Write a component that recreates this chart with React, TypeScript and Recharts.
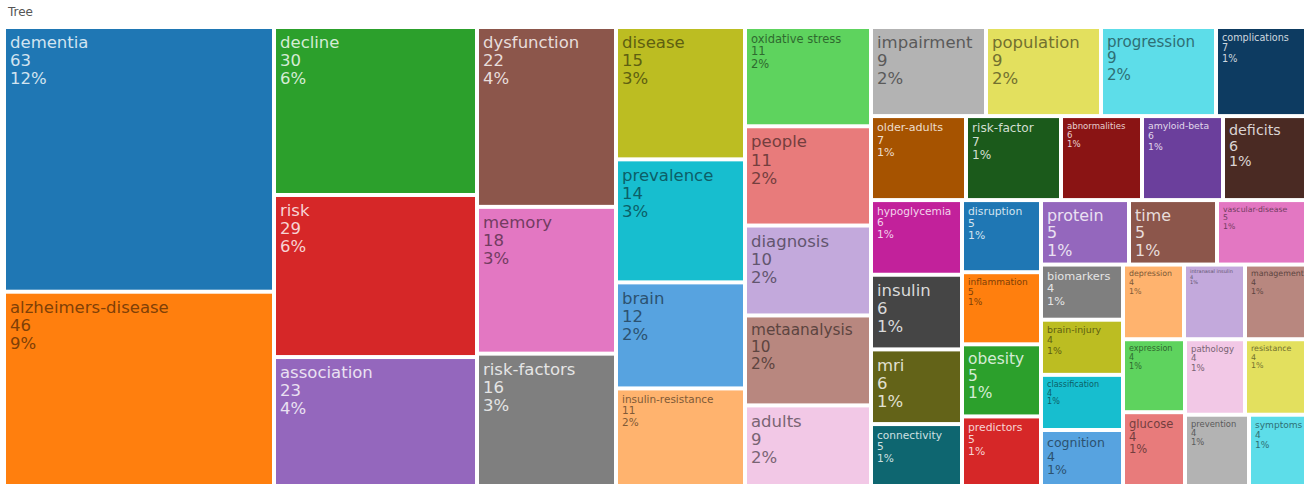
import { Treemap } from "recharts";

const keywords = [
  "dementia", "alzheimers-disease", "decline", "risk", "association",
  "dysfunction", "memory", "risk-factors", "disease", "prevalence",
  "brain", "insulin-resistance", "oxidative stress", "people", "diagnosis",
  "metaanalysis", "adults", "impairment", "population", "progression",
  "complications", "older-adults", "risk-factor", "abnormalities", "amyloid-beta",
  "deficits", "hypoglycemia", "insulin", "mri", "connectivity",
  "disruption", "inflammation", "obesity", "predictors", "protein",
  "time", "vascular-disease", "biomarkers", "brain-injury", "classification",
  "cognition", "depression", "intranasal insulin", "management", "expression",
  "glucose", "pathology", "resistance", "prevention", "symptoms",
];

const counts = [
  63, 46, 30, 29, 23,
  22, 18, 16, 15, 14,
  12, 11, 11, 11, 10,
  10, 9, 9, 9, 9,
  7, 7, 7, 6, 6,
  6, 6, 6, 6, 5,
  5, 5, 5, 5, 5,
  5, 5, 4, 4, 4,
  4, 4, 4, 4, 4,
  4, 4, 4, 4, 4,
];

const tileColors = [
  "#1f77b4", "#ff7f0e", "#2ca02c", "#d62728", "#9467bd",
  "#8c564b", "#e377c2", "#7f7f7f", "#bcbd22", "#17becf",
  "#57a3e0", "#ffb36e", "#5ed35e", "#e87b7b", "#c3a9dc",
  "#b8877f", "#f2c8e6", "#b3b3b3", "#e3e05e", "#5ddde9",
  "#0d3b61", "#a65300", "#1b5a1b", "#8a1414", "#6b3f9c",
  "#4a2a23", "#c2219b", "#454545", "#636318", "#0e6670",
  "#1f77b4", "#ff7f0e", "#2ca02c", "#d62728", "#9467bd",
  "#8c564b", "#e377c2", "#7f7f7f", "#bcbd22", "#17becf",
  "#57a3e0", "#ffb36e", "#c3a9dc", "#b8877f", "#5ed35e",
  "#e87b7b", "#f2c8e6", "#e3e05e", "#b3b3b3", "#5ddde9",
];

const total = counts.reduce((a, b) => a + b, 0);
const data = keywords.map((name, i) => ({ name, size: counts[i], color: tileColors[i] }));

// layout is computed on a slightly taller box, then squeezed to the visible height
const W = 1302;
const LAYOUT_H = 541;
const VIEW_H = 459;

function rgb(hex: string) {
  const n = parseInt(hex.slice(1), 16);
  return [(n >> 16) & 255, (n >> 8) & 255, n & 255];
}

function mix(hex: string, to: number, t: number) {
  const c = rgb(hex).map((v) => Math.round(v + (to - v) * t));
  return `rgb(${c[0]},${c[1]},${c[2]})`;
}

function textColor(hex: string) {
  const [r, g, b] = rgb(hex);
  const lum = 0.299 * r + 0.587 * g + 0.114 * b;
  return lum > 140 ? mix(hex, 0, 0.5) : mix(hex, 255, 0.8);
}

function Tile(props: any) {
  const { x, y, width, height, depth, name, value, color, sy } = props;
  if (depth !== 1 || !color) return null;
  const top = y * sy;
  const w = width - 4;
  const h = height * sy - 4;
  const fs = Math.max(5, Math.min(16.5, (w - 8) / (String(name).length * 0.62), h / 3.8));
  const lh = fs * 1.1;
  const tx = x + 2 + 4;
  const ty = top + 2 + fs * 1.1 + 1;
  const tc = textColor(color);
  return (
    <g>
      <rect x={x + 2} y={top + 2} width={w} height={h} fill={color} />
      <text x={tx} y={ty} fontSize={fs} fill={tc} fontFamily="DejaVu Sans">
        <tspan x={tx}>{name}</tspan>
        <tspan x={tx} dy={lh}>{value}</tspan>
        <tspan x={tx} dy={lh}>{Math.round((value / total) * 100)}%</tspan>
      </text>
    </g>
  );
}

export default function App() {
  return (
    <div style={{ position: "absolute", left: 0, top: 0, width: 1306, height: 484, overflow: "hidden", background: "#fff" }}>
      <div style={{ position: "absolute", left: 8, top: 5, fontFamily: "DejaVu Sans", fontSize: 12, color: "#555" }}>Tree</div>
      <div style={{ position: "absolute", left: 4, top: 27, width: W, height: VIEW_H, overflow: "hidden" }}>
        <Treemap
          width={W}
          height={LAYOUT_H}
          data={data}
          dataKey="size"
          nameKey="name"
          aspectRatio={1}
          stroke="none"
          isAnimationActive={false}
          content={<Tile sy={VIEW_H / LAYOUT_H} />}
        />
      </div>
    </div>
  );
}
